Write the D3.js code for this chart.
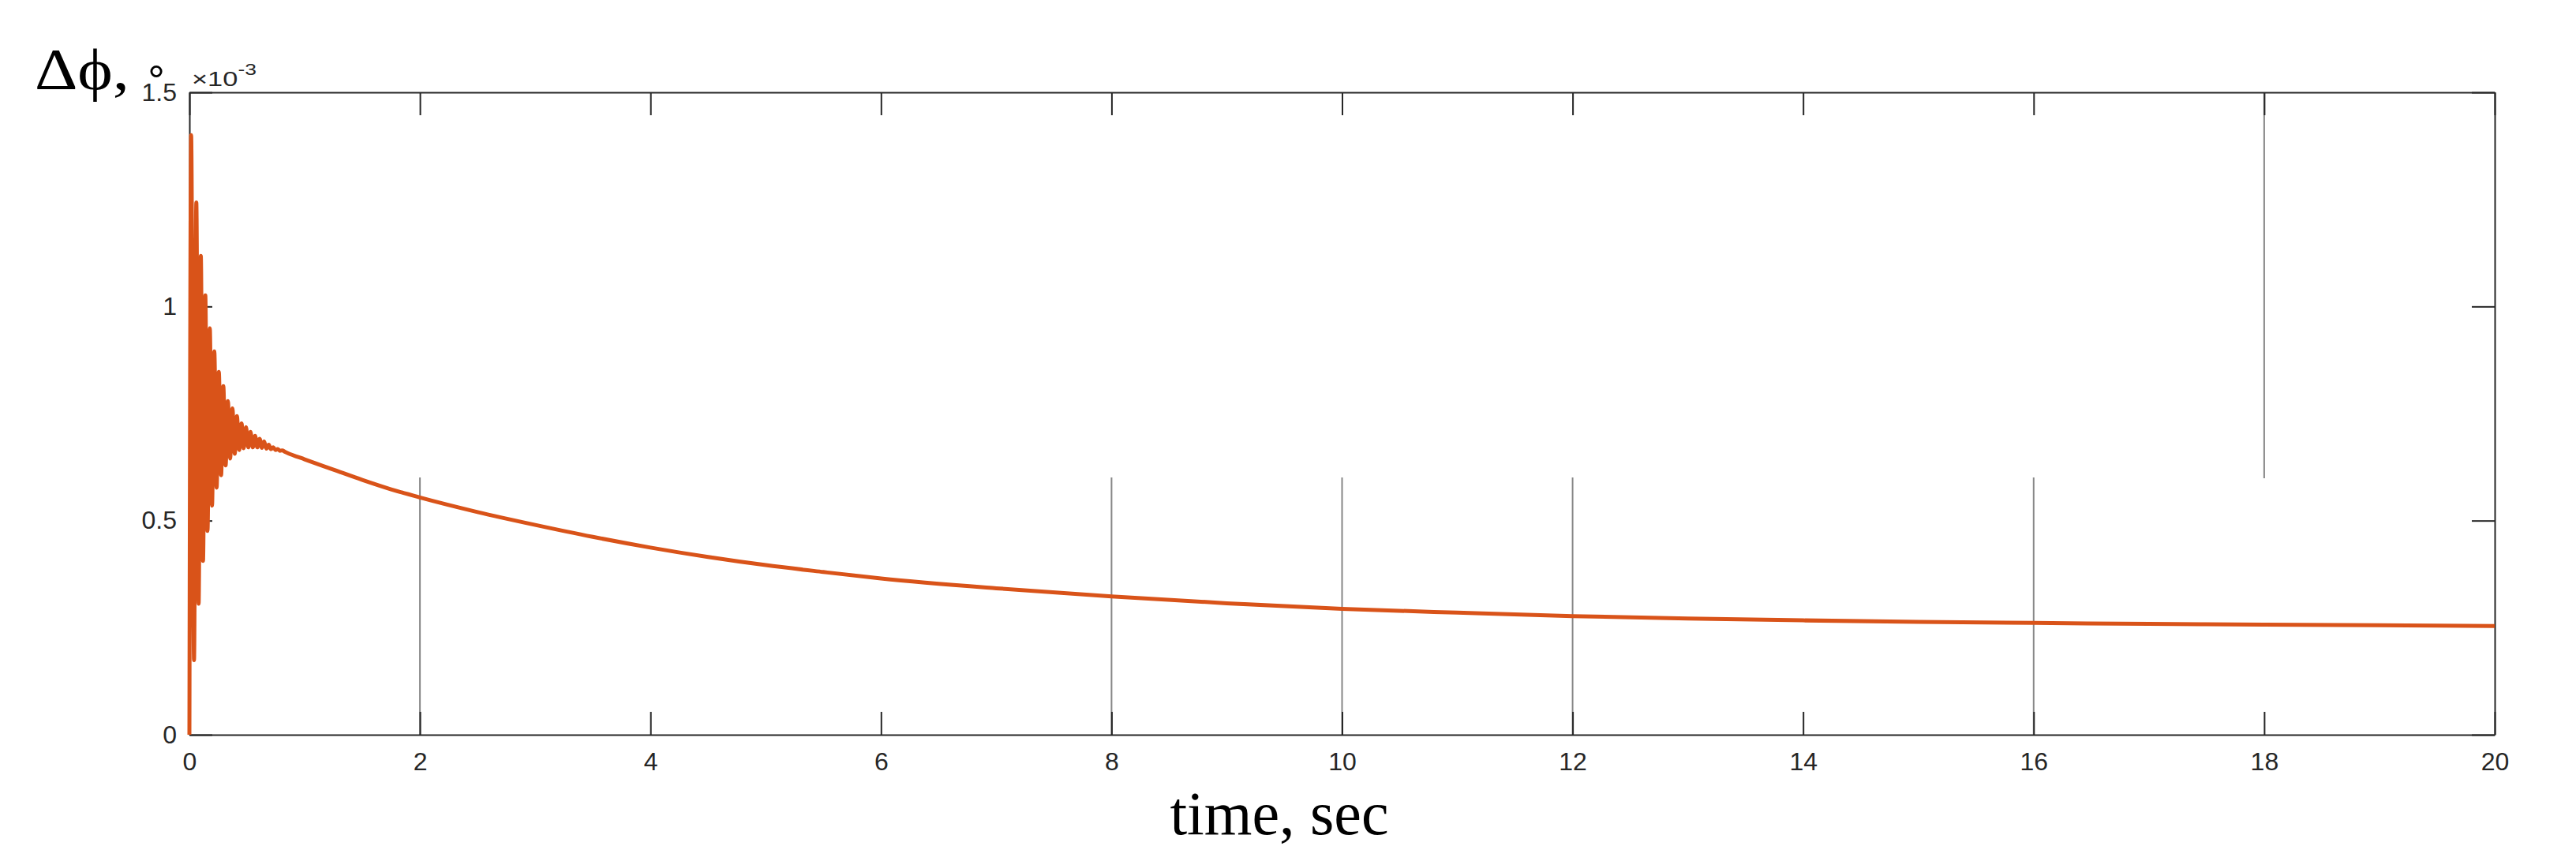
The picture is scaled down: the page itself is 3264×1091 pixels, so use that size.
<!DOCTYPE html>
<html>
<head>
<meta charset="utf-8">
<script src="https://cdn.jsdelivr.net/npm/d3@7"></script>
<style>
  html, body { margin: 0; padding: 0; background: #fff; }
  svg { display: block; }
</style>
</head>
<body>
<script>
// ---- Data (Δϕ in units of 1e-3 degrees) ----
const timeSec = [
  0, 0.015, 0.040, 0.060, 0.080, 0.099, 0.118, 0.138, 0.157, 0.177, 0.196,
  0.216, 0.236, 0.255, 0.275, 0.294, 0.314, 0.334, 0.353, 0.373, 0.393,
  0.412, 0.432, 0.452, 0.471, 0.491, 0.511, 0.530, 0.550, 0.570, 0.589,
  0.609, 0.629, 0.648, 0.668, 0.688, 0.707, 0.727, 0.747, 0.766, 0.786,
  0.806, 0.825, 0.85,
  1.0, 1.25, 1.5, 1.75, 2.0, 2.5, 3.0, 3.5, 4.0, 4.5, 5.0, 5.5, 6.0,
  7.0, 8.0, 9.0, 10.0, 11.0, 12.0, 13.0, 14.0, 15.0, 16.0, 17.0, 18.0, 19.0, 20.0
];
const dphi = [
  0, 1.400, 0.174, 1.243, 0.306, 1.118, 0.406, 1.026, 0.476, 0.949, 0.535,
  0.895, 0.577, 0.847, 0.606, 0.814, 0.629, 0.779, 0.645, 0.762, 0.656,
  0.744, 0.665, 0.727, 0.669, 0.718, 0.671, 0.707, 0.671, 0.698, 0.671,
  0.691, 0.670, 0.685, 0.668, 0.677, 0.667, 0.671, 0.665, 0.667, 0.663,
  0.664, 0.661, 0.658,
  0.643, 0.619, 0.595, 0.573, 0.554, 0.520, 0.490, 0.462, 0.437, 0.415, 0.396, 0.380, 0.365,
  0.342, 0.323, 0.307, 0.294, 0.285, 0.277, 0.2715, 0.267, 0.2635, 0.261, 0.259, 0.257, 0.2555, 0.254
];
const xTickValues = [0, 2, 4, 6, 8, 10, 12, 14, 16, 18, 20];
const yTickValues = [0, 0.5, 1, 1.5];
const yTickLabels = ["0", "0.5", "1", "1.5"];
const lowerGuideTimes = [2, 8, 10, 12, 16];
const upperGuideTimes = [18];
const guideLevel = 0.6;

// ---- Layout ----
const W = 3264, H = 1091;
const padL = 240, padR = 3161, padT = 117, padB = 931;
const axisColor = "#262626";
const lineColor = "#D95319";

const svg = d3.select("body").append("svg")
  .attr("width", W).attr("height", H)
  .attr("viewBox", `0 0 ${W} ${H}`);
svg.append("rect").attr("width", W).attr("height", H).attr("fill", "#fff");

const x = d3.scaleLinear().domain([0, 20]).range([padL, padR]);
const y = d3.scaleLinear().domain([0, 1.5]).range([padB, padT]);

// guide (dotted) vertical lines
const guides = svg.append("g");
guides.selectAll("line.lower").data(lowerGuideTimes).join("line")
  .attr("class", "lower")
  .attr("x1", d => x(d)).attr("x2", d => x(d))
  .attr("y1", y(guideLevel)).attr("y2", y(0))
  .attr("stroke", "#111").attr("stroke-width", 2)
  .attr("stroke-dasharray", "1,1");
guides.selectAll("line.upper").data(upperGuideTimes).join("line")
  .attr("class", "upper")
  .attr("x1", d => x(d)).attr("x2", d => x(d))
  .attr("y1", y(guideLevel)).attr("y2", y(1.5))
  .attr("stroke", "#111").attr("stroke-width", 2)
  .attr("stroke-dasharray", "1,1");

// axes
const tickLen = 29;
function styleAxis(g) {
  g.selectAll(".domain").attr("stroke", axisColor).attr("stroke-width", 2);
  g.selectAll(".tick line").attr("stroke", axisColor).attr("stroke-width", 2);
  g.selectAll(".tick text").attr("fill", axisColor)
    .attr("font-family", "'Liberation Sans', Arial, sans-serif")
    .attr("font-size", 32);
}

const gBottom = svg.append("g").attr("transform", `translate(0,${padB})`)
  .call(d3.axisBottom(x).tickValues(xTickValues).tickSize(-tickLen).tickSizeOuter(0).tickPadding(22)
    .tickFormat(d => String(d)));
styleAxis(gBottom);

const gTop = svg.append("g").attr("transform", `translate(0,${padT})`)
  .call(d3.axisTop(x).tickValues(xTickValues).tickSize(-tickLen).tickSizeOuter(0).tickFormat(""));
styleAxis(gTop);

const gLeft = svg.append("g").attr("transform", `translate(${padL},0)`)
  .call(d3.axisLeft(y).tickValues(yTickValues).tickSize(-tickLen).tickSizeOuter(0).tickPadding(16)
    .tickFormat((d, i) => yTickLabels[i]));
styleAxis(gLeft);

const gRight = svg.append("g").attr("transform", `translate(${padR},0)`)
  .call(d3.axisRight(y).tickValues(yTickValues).tickSize(-tickLen).tickSizeOuter(0).tickFormat(""));
styleAxis(gRight);

// exponent label
const expo = svg.append("text")
  .attr("x", padL + 3).attr("y", 109)
  .attr("font-family", "'Liberation Sans', Arial, sans-serif")
  .attr("font-size", 26).attr("fill", axisColor)
  .attr("textLength", 82).attr("lengthAdjust", "spacingAndGlyphs");
expo.append("tspan").text("\u00D710");
expo.append("tspan").attr("dy", -14).attr("font-size", 20).text("-3");

// data line
const pts = timeSec.map((t, i) => [t, dphi[i]]);
svg.append("path")
  .datum(pts)
  .attr("fill", "none")
  .attr("stroke", lineColor)
  .attr("stroke-width", 5)
  .attr("stroke-linejoin", "miter")
  .attr("d", d3.line().x(d => x(d[0])).y(d => y(d[1])).curve(d3.curveMonotoneX));

// axis titles
svg.append("text")
  .attr("x", 1621).attr("y", 1057)
  .attr("text-anchor", "middle")
  .attr("font-family", "'Liberation Serif', 'Times New Roman', serif")
  .attr("font-size", 78).attr("fill", "#000")
  .text("time, sec");

svg.append("text")
  .attr("x", 44).attr("y", 113)
  .attr("font-family", "'Liberation Serif', 'Times New Roman', serif")
  .attr("font-size", 74).attr("fill", "#000")
  .attr("textLength", 120).attr("lengthAdjust", "spacingAndGlyphs")
  .text("\u0394\u03D5,");

svg.append("text")
  .attr("x", 198).attr("y", 121)
  .attr("text-anchor", "middle")
  .attr("font-family", "'Liberation Sans', Arial, sans-serif")
  .attr("font-size", 54).attr("fill", "#000")
  .text("\u00B0");
</script>
</body>
</html>
